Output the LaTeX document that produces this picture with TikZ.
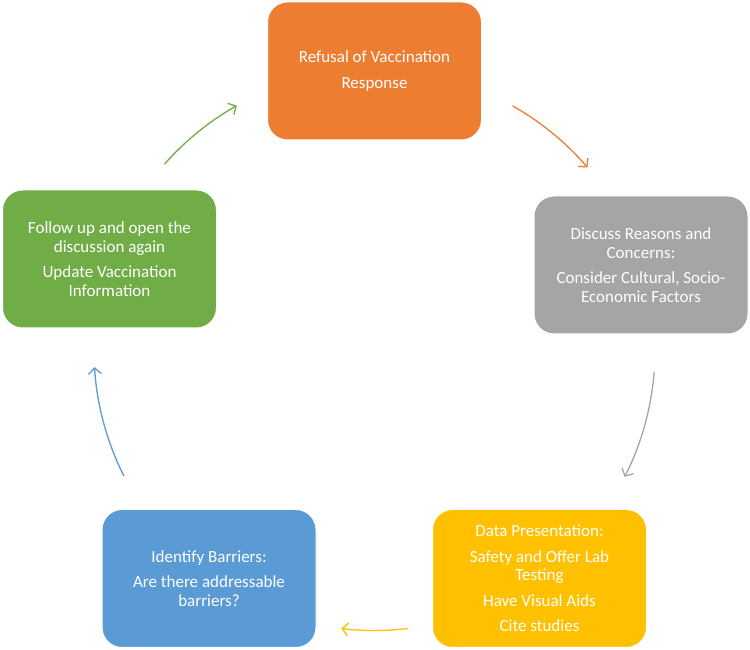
\documentclass[tikz,border=0pt]{standalone}
\usepackage{fontspec}
\setmainfont{Carlito}
\usetikzlibrary{arrows.meta}
\definecolor{cOrange}{HTML}{ED7D31}
\definecolor{cGray}{HTML}{A5A5A5}
\definecolor{cYellow}{HTML}{FFC000}
\definecolor{cBlue}{HTML}{5B9BD5}
\definecolor{cGreen}{HTML}{70AD47}
\begin{document}
\begin{tikzpicture}[x=1pt,y=1pt,
  box/.style={rounded corners=20pt, minimum width=214pt, minimum height=138pt,
    text=white, align=center, draw=white, line width=1pt, inner sep=4pt,
    font=\fontsize{17}{18.5}\selectfont},
  arr/.style={line width=1.3pt, -{Straight Barb[length=6pt,width=13pt,line width=1.3pt]}}
]
\useasboundingbox (0,0) rectangle (750,650);
\node[box, fill=cOrange] (o) at (374.5,579) {Refusal of Vaccination\\[7pt]Response};
\node[box, fill=cGray] (g) at (641,385) {Discuss Reasons and\\Concerns:\\[7pt]Consider Cultural, Socio-\\Economic Factors};
\node[box, fill=cYellow] (y) at (539.5,71.5) {Data Presentation:\\[7pt]Safety and Offer Lab\\Testing\\[7pt]Have Visual Aids\\[7pt]Cite studies};
\node[box, fill=cBlue] (b) at (209,71.5) {Identify Barriers:\\[7pt]Are there addressable\\barriers?};
\node[box, fill=cGreen] (gr) at (109.5,391) {Follow up and open the\\discussion again\\[7pt]Update Vaccination\\Information};
\coordinate (c) at (374.5,300);
\draw[arr, cGreen] ([shift={(138.5:280.5)}]c) arc[start angle=138.5, end angle=119.4, radius=280.5];
\draw[arr, cOrange] ([shift={(60.5:280.5)}]c) arc[start angle=60.5, end angle=40.6, radius=280.5];
\draw[arr, cGray] ([shift={(-4.5:280.5)}]c) arc[start angle=-4.5, end angle=-26.9, radius=280.5];
\draw[arr, cYellow] ([shift={(-83.2:280.5)}]c) arc[start angle=-83.2, end angle=-96.8, radius=280.5];
\draw[arr, cBlue] ([shift={(206.7:280.5)}]c) arc[start angle=206.7, end angle=183.5, radius=280.5];
\end{tikzpicture}
\end{document}
